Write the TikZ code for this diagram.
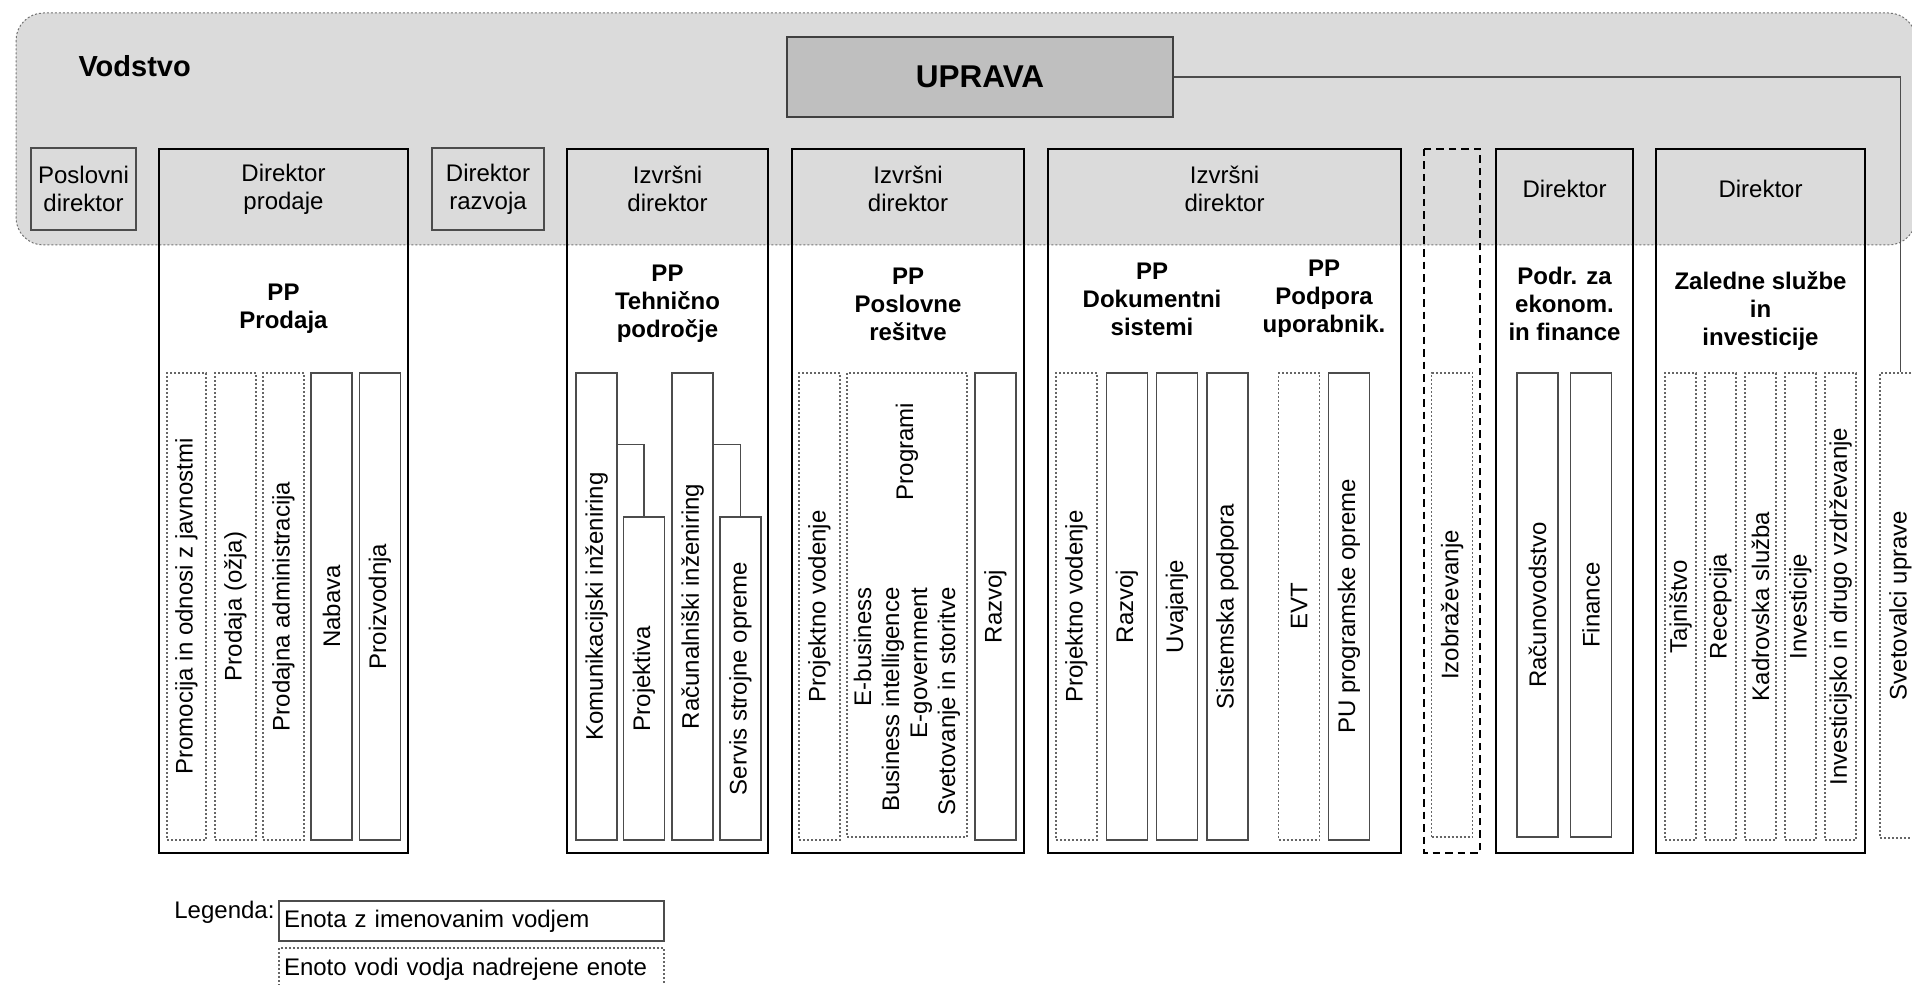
\documentclass[tikz,border=0pt]{standalone}
\usepackage{fontspec}
\setmainfont{Liberation Sans}
\usetikzlibrary{positioning}
\newlength\orgpx
\setlength\orgpx{0.4pt}

\begin{document}
\begin{tikzpicture}[x=0.4pt, y=-0.4pt,
  txt/.style={font=\fontsize{9.6}{11.2}\selectfont, inner sep=0pt, align=center},
  pp/.style={txt, font=\fontsize{9.6}{11.2}\selectfont\bfseries},
  dept/.style={draw=black, line width=0.9pt},
  chief/.style={txt, draw=black!70, line width=0.5pt, minimum height=82\orgpx},
  unit/.style={draw=black!70, line width=0.5pt, inner sep=0pt, minimum width=41\orgpx, minimum height=467\orgpx, font=\fontsize{9.6}{11.2}\selectfont},
  subunit/.style={unit, draw=black!60, dash pattern=on 0.8pt off 0.8pt},
  link/.style={draw=black!70, line width=0.5pt}]
\useasboundingbox (0,0) rectangle (1912,985);
\clip (0,0) rectangle (1912,985);

% vodstvo
\draw[dash pattern=on 0.8pt off 0.8pt, draw=black!55, fill=black!14, rounded corners=11pt] (16,13) rectangle (1916,245);
\node[anchor=west, inner sep=0pt, font=\fontsize{11.6}{14}\selectfont\bfseries] (vodstvo) at (78,66) {Vodstvo};
\node[draw=black!75, fill=black!25, line width=0.5pt, minimum width=386\orgpx, minimum height=80\orgpx, font=\fontsize{12.6}{15}\selectfont\bfseries] (uprava) at (980,77) {UPRAVA};
\node[chief, minimum width=105\orgpx] (posdir) at (83.5,189) {Poslovni\\direktor};
\node[chief, minimum width=112\orgpx] (razdir) at (488,189) {Direktor\\razvoja};

% departments
\draw[dept] (159,149) rectangle (408,853);
\draw[dept] (567,149) rectangle (768,853);
\draw[dept] (792,149) rectangle (1024,853);
\draw[dept] (1048,149) rectangle (1401,853);
\draw[dept, line width=0.6pt, dash pattern=on 3pt off 2pt] (1424,149) rectangle (1480,853);
\draw[dept] (1496,149) rectangle (1633,853);
\draw[dept] (1656,149) rectangle (1865,853);

\node[txt] (hprodaja) at (283.5,189) {Direktor\\prodaje};
\node[txt] (hteh) at (667.5,189) {Izvršni\\direktor};
\node[txt] (hposl) at (908,189) {Izvršni\\direktor};
\node[txt] (hdok) at (1224.5,189) {Izvršni\\direktor};
\node[txt] (hekon) at (1564.5,189) {Direktor};
\node[txt] (hzal) at (1760.5,189) {Direktor};

\node[pp] (ppprodaja) at (283.5,309) {PP\\Prodaja};
\node[pp] (ppteh) at (667.5,304) {PP\\Tehnično\\področje};
\node[pp] (ppposl) at (908,304) {PP\\Poslovne\\rešitve};
\node[pp] (ppdok) at (1152,299) {PP\\Dokumentni\\sistemi};
\node[pp] (pppod) at (1324,299) {PP\\Podpora\\uporabnik.};
\node[pp] (ppekon) at (1564.5,304) {Podr. za\\ekonom.\\in finance};
\node[pp] (ppzal) at (1760.5,311) {Zaledne službe\\in\\investicije};

% prodaja
\node[subunit, minimum width=39\orgpx] (promocija) at (186.5,606.5) {\rotatebox{90}{Promocija in odnosi z javnostmi}};
\node[subunit] (prodaja) at (235.5,606.5) {\rotatebox{90}{Prodaja (ožja)}};
\node[subunit] (prodadm) at (283.5,606.5) {\rotatebox{90}{Prodajna administracija}};
\node[unit] (nabava) at (331.5,606.5) {\rotatebox{90}{Nabava}};
\node[unit] (proizv) at (380,606.5) {\rotatebox{90}{Proizvodnja}};

% tehnicno podrocje
\node[unit] (komun) at (596.5,606.5) {\rotatebox{90}{Komunikacijski inženiring}};
\node[unit, minimum height=323\orgpx] (projektiva) at (644,678.5) {\rotatebox{90}{Projektiva}};
\node[unit] (racinz) at (692.5,606.5) {\rotatebox{90}{Računalniški inženiring}};
\node[unit, minimum height=323\orgpx] (servis) at (740.5,678.5) {\rotatebox{90}{Servis strojne opreme}};
\draw[link] (komun.north east) ++(0,72) -| (projektiva.north);
\draw[link] (racinz.north east) ++(0,72) -| (servis.north);

% poslovne resitve
\node[subunit] (pvposl) at (819.5,606.5) {\rotatebox{90}{Projektno vodenje}};
\node[subunit, minimum width=120\orgpx, minimum height=464\orgpx] (programi) at (907,605) {};
\node[txt] (prgtitle) at (907,451.5) {\rotatebox{90}{Programi}};
\node[txt, rotate=90, align=right, anchor=east] (prglist) at (907,587) {E-business\\Business intelligence\\E-government\\Svetovanje in storitve};
\node[unit] (razposl) at (995.5,606.5) {\rotatebox{90}{Razvoj}};

% dokumentni sistemi, podpora
\node[subunit] (pvdok) at (1076.5,606.5) {\rotatebox{90}{Projektno vodenje}};
\node[unit] (razdok) at (1127,606.5) {\rotatebox{90}{Razvoj}};
\node[unit] (uvajanje) at (1177,606.5) {\rotatebox{90}{Uvajanje}};
\node[unit] (sistpod) at (1227.5,606.5) {\rotatebox{90}{Sistemska podpora}};
\node[subunit] (evt) at (1299,606.5) {\rotatebox{90}{EVT}};
\node[unit] (puopreme) at (1349,606.5) {\rotatebox{90}{PU programske opreme}};

% izobrazevanje, ekonomika, zaledne sluzbe
\node[subunit, minimum height=464\orgpx] (izobr) at (1452,605) {\rotatebox{90}{Izobraževanje}};
\node[unit, minimum height=464\orgpx] (racun) at (1537.5,605) {\rotatebox{90}{Računovodstvo}};
\node[unit, minimum height=464\orgpx] (finance) at (1591,605) {\rotatebox{90}{Finance}};
\node[subunit, minimum width=31\orgpx] (tajnistvo) at (1680.5,606.5) {\rotatebox{90}{Tajništvo}};
\node[subunit, minimum width=31\orgpx] (recepcija) at (1720.5,606.5) {\rotatebox{90}{Recepcija}};
\node[subunit, minimum width=31\orgpx] (kadri) at (1760.5,606.5) {\rotatebox{90}{Kadrovska služba}};
\node[subunit, minimum width=31\orgpx] (invest) at (1800.5,606.5) {\rotatebox{90}{Investicije}};
\node[subunit, minimum width=31\orgpx] (vzdrz) at (1840.5,606.5) {\rotatebox{90}{Investicijsko in drugo vzdrževanje}};

% svetovalci
\node[subunit, minimum height=465\orgpx] (svet) at (1900.5,605.5) {\rotatebox{90}{Svetovalci uprave}};
\draw[link] (uprava.east) -| (svet.north);

% legenda
\node[txt, anchor=base east] (legenda) at (275,918) {Legenda:};
\node[txt, draw=black!70, line width=0.5pt, align=left, text width=375\orgpx, inner xsep=5\orgpx, minimum height=40\orgpx] (legunit) at (471.5,921) {Enota z imenovanim vodjem};
\node[txt, draw=black!60, line width=0.5pt, dash pattern=on 0.8pt off 0.8pt, align=left, text width=375\orgpx, inner xsep=5\orgpx, minimum height=42\orgpx] (legsub) at (471.5,969) {Enoto vodi vodja nadrejene enote};
\end{tikzpicture}
\end{document}
